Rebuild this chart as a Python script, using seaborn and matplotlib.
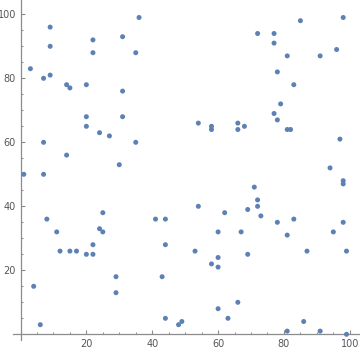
import matplotlib
matplotlib.use("Agg")
import matplotlib.pyplot as plt
import seaborn as sns
import pandas as pd
from matplotlib.ticker import FixedLocator

x_vals = [36, 9, 9, 22, 22, 31, 35, 3, 7, 9, 14, 15, 20, 31, 20, 20, 31, 24, 27, 7,
          35, 14, 30, 1, 7, 98, 85, 72, 77, 77, 96, 81, 91, 78, 83, 79, 77, 78, 54, 58,
          58, 66, 66, 68, 81, 82, 97, 94, 8, 11, 12, 15, 17, 20, 22, 22, 24, 25, 25, 4,
          6, 29, 29, 41, 44, 44, 43, 44, 48, 49, 54, 53, 60, 62, 58, 60, 60, 60, 63, 66,
          67, 69, 69, 71, 72, 72, 73, 78, 81, 83, 87, 95, 98, 99, 98, 98, 86, 81, 91, 99]
y_vals = [99, 96, 90, 92, 88, 93, 88, 83, 80, 81, 78, 77, 78, 76, 68, 65, 68, 63, 62, 60,
          60, 56, 53, 50, 50, 99, 98, 94, 94, 91, 89, 87, 87, 82, 78, 72, 69, 67, 66, 65,
          64, 66, 64, 65, 64, 64, 61, 52, 36, 32, 26, 26, 26, 25, 25, 28, 33, 32, 38, 15,
          3, 18, 13, 36, 36, 28, 18, 5, 3, 4, 40, 26, 32, 38, 22, 24, 21, 8, 5, 10,
          32, 39, 25, 46, 42, 40, 37, 35, 31, 36, 26, 32, 35, 26, 48, 47, 4, 1, 1, 0]
major_ticks = [20, 40, 60, 80, 100]
minor_ticks = [5, 10, 15, 25, 30, 35, 45, 50, 55, 65, 70, 75, 85, 90, 95]

df = pd.DataFrame({"x": x_vals, "y": y_vals})

sns.set_style("white")
plt.rcParams['font.family'] = ['DejaVu Sans']

fig = plt.figure(figsize=(3.6, 3.52), dpi=100)
ax = fig.add_axes([0, 0, 1, 1])
sns.scatterplot(data=df, x="x", y="y", ax=ax, color="#5E81B5", s=13,
                edgecolor="none", linewidth=0, legend=False, zorder=3)

ax.set_xlim(-6.23, 103.1)
ax.set_ylim(-5.53, 104.47)
ax.set_xlabel("")
ax.set_ylabel("")

axis_color = "#8c8c8c"
for side in ["top", "right"]:
    ax.spines[side].set_visible(False)
ax.spines["left"].set_position(("data", 0))
ax.spines["bottom"].set_position(("data", 0))
ax.spines["left"].set_bounds(-1.8, 104.47)
ax.spines["bottom"].set_bounds(-2.3, 103.1)
for side in ["left", "bottom"]:
    ax.spines[side].set_color(axis_color)
    ax.spines[side].set_linewidth(0.9)

ax.xaxis.set_major_locator(FixedLocator(major_ticks))
ax.yaxis.set_major_locator(FixedLocator(major_ticks))
ax.xaxis.set_minor_locator(FixedLocator(minor_ticks))
ax.yaxis.set_minor_locator(FixedLocator(minor_ticks))
ax.set_xticklabels([str(t) for t in major_ticks])
ax.set_yticklabels([str(t) for t in major_ticks])
ax.tick_params(which="major", direction="in", length=2.6, width=0.8,
               color=axis_color, labelsize=7, labelcolor="#555555", pad=3.2)
ax.tick_params(which="minor", direction="in", length=1.5, width=0.7,
               color=axis_color)
ax.tick_params(axis="x", which="both", bottom=True, top=False)
ax.tick_params(axis="y", which="both", left=True, right=False)
ax.patch.set_alpha(0)

fig.savefig("out.png", dpi=100)
